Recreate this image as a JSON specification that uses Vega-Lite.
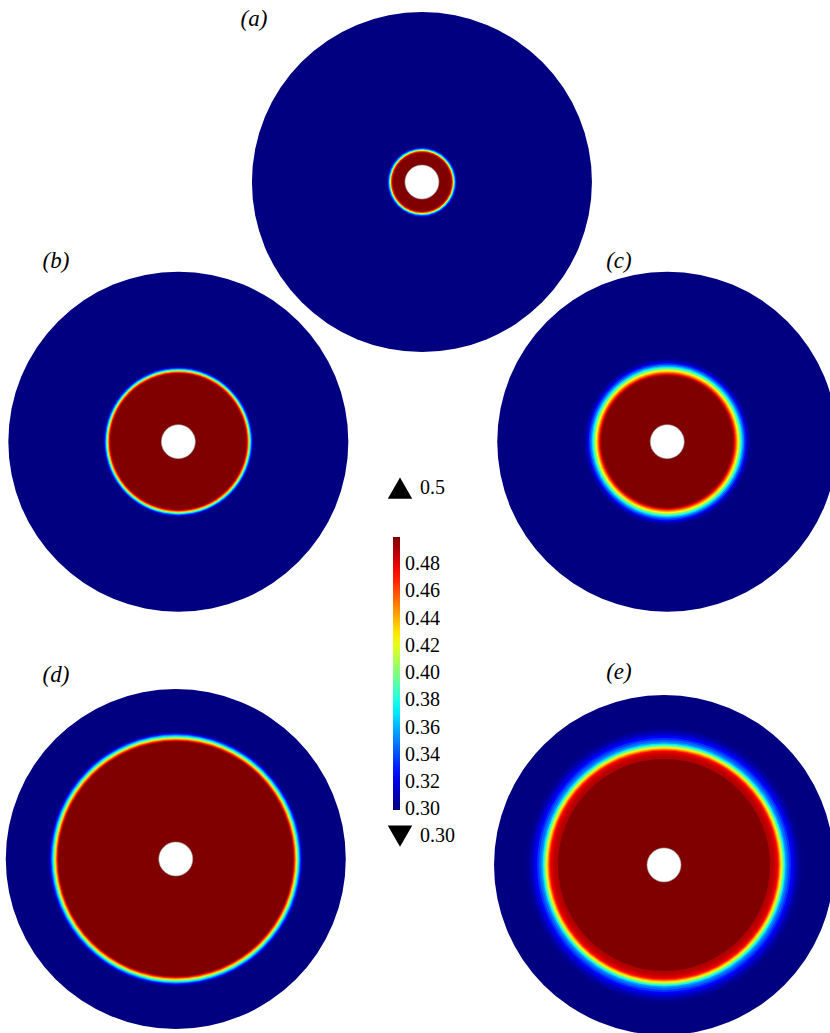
{
  "$schema": "https://vega.github.io/schema/vega-lite/v6.json",
  "width": 830,
  "height": 1033,
  "autosize": {"type": "none"},
  "padding": 0,
  "background": "white",
  "config": {"view": {"stroke": null}},
  "datasets": {
    "panels": [
      {"panel": "a", "cx": 24.82, "cy": 10.71, "hole": 1.0, "lx": 14.94, "ly": 1.12, "tag": "(a)"},
      {"panel": "b", "cx": 10.49, "cy": 25.98, "hole": 1.0, "lx": 3.29, "ly": 15.35, "tag": "(b)"},
      {"panel": "c", "cx": 39.25, "cy": 25.98, "hole": 1.0, "lx": 36.41, "ly": 15.35, "tag": "(c)"},
      {"panel": "d", "cx": 10.34, "cy": 50.53, "hole": 1.0, "lx": 3.29, "ly": 39.71, "tag": "(d)"},
      {"panel": "e", "cx": 39.06, "cy": 50.88, "hole": 1.0, "lx": 36.41, "ly": 39.53, "tag": "(e)"}
    ],
    "rings": [
      {"panel": "a", "r": 10.0, "c": 0.30},
      {"panel": "a", "r": 2.059, "c": 0.315},
      {"panel": "a", "r": 2.0, "c": 0.34},
      {"panel": "a", "r": 1.941, "c": 0.375},
      {"panel": "a", "r": 1.882, "c": 0.42},
      {"panel": "a", "r": 1.824, "c": 0.465},
      {"panel": "a", "r": 1.765, "c": 0.49},
      {"panel": "a", "r": 1.706, "c": 0.50},

      {"panel": "b", "r": 10.0, "c": 0.30},
      {"panel": "b", "r": 4.441, "c": 0.305},
      {"panel": "b", "r": 4.382, "c": 0.32},
      {"panel": "b", "r": 4.324, "c": 0.345},
      {"panel": "b", "r": 4.265, "c": 0.375},
      {"panel": "b", "r": 4.206, "c": 0.41},
      {"panel": "b", "r": 4.147, "c": 0.445},
      {"panel": "b", "r": 4.088, "c": 0.475},
      {"panel": "b", "r": 4.029, "c": 0.495},
      {"panel": "b", "r": 3.971, "c": 0.50},

      {"panel": "c", "r": 10.0, "c": 0.30},
      {"panel": "c", "r": 4.941, "c": 0.302},
      {"panel": "c", "r": 4.824, "c": 0.31},
      {"panel": "c", "r": 4.706, "c": 0.32},
      {"panel": "c", "r": 4.618, "c": 0.335},
      {"panel": "c", "r": 4.529, "c": 0.35},
      {"panel": "c", "r": 4.441, "c": 0.365},
      {"panel": "c", "r": 4.382, "c": 0.38},
      {"panel": "c", "r": 4.324, "c": 0.395},
      {"panel": "c", "r": 4.265, "c": 0.41},
      {"panel": "c", "r": 4.206, "c": 0.425},
      {"panel": "c", "r": 4.147, "c": 0.44},
      {"panel": "c", "r": 4.088, "c": 0.455},
      {"panel": "c", "r": 4.029, "c": 0.47},
      {"panel": "c", "r": 3.971, "c": 0.485},
      {"panel": "c", "r": 3.912, "c": 0.495},
      {"panel": "c", "r": 3.853, "c": 0.50},

      {"panel": "d", "r": 10.0, "c": 0.30},
      {"panel": "d", "r": 7.5, "c": 0.305},
      {"panel": "d", "r": 7.441, "c": 0.315},
      {"panel": "d", "r": 7.382, "c": 0.33},
      {"panel": "d", "r": 7.324, "c": 0.35},
      {"panel": "d", "r": 7.265, "c": 0.37},
      {"panel": "d", "r": 7.206, "c": 0.39},
      {"panel": "d", "r": 7.147, "c": 0.415},
      {"panel": "d", "r": 7.088, "c": 0.44},
      {"panel": "d", "r": 7.029, "c": 0.465},
      {"panel": "d", "r": 6.971, "c": 0.485},
      {"panel": "d", "r": 6.912, "c": 0.50},

      {"panel": "e", "r": 10.0, "c": 0.30},
      {"panel": "e", "r": 8.118, "c": 0.302},
      {"panel": "e", "r": 7.941, "c": 0.308},
      {"panel": "e", "r": 7.765, "c": 0.315},
      {"panel": "e", "r": 7.618, "c": 0.325},
      {"panel": "e", "r": 7.471, "c": 0.335},
      {"panel": "e", "r": 7.353, "c": 0.345},
      {"panel": "e", "r": 7.235, "c": 0.355},
      {"panel": "e", "r": 7.147, "c": 0.37},
      {"panel": "e", "r": 7.088, "c": 0.385},
      {"panel": "e", "r": 7.029, "c": 0.40},
      {"panel": "e", "r": 6.971, "c": 0.415},
      {"panel": "e", "r": 6.912, "c": 0.43},
      {"panel": "e", "r": 6.853, "c": 0.445},
      {"panel": "e", "r": 6.794, "c": 0.46},
      {"panel": "e", "r": 6.735, "c": 0.475},
      {"panel": "e", "r": 6.647, "c": 0.483},
      {"panel": "e", "r": 6.529, "c": 0.488},
      {"panel": "e", "r": 6.382, "c": 0.49},
      {"panel": "e", "r": 6.235, "c": 0.50}
    ],
    "extrema": [
      {"kind": "max", "value": 0.5, "label": "0.5", "x": 23.53, "y": 28.71},
      {"kind": "min", "value": 0.30, "label": "0.30", "x": 23.53, "y": 49.18}
    ]
  },
  "encoding": {
    "x": {"type": "quantitative", "scale": {"domain": [0, 48.824], "nice": false, "zero": false}, "axis": null},
    "y": {"type": "quantitative", "scale": {"domain": [0, 60.765], "nice": false, "zero": false, "reverse": true}, "axis": null}
  },
  "layer": [
    {
      "data": {"name": "rings"},
      "transform": [
        {"lookup": "panel", "from": {"data": {"name": "panels"}, "key": "panel", "fields": ["cx", "cy"]}}
      ],
      "mark": {"type": "point", "filled": true, "shape": "circle", "opacity": 1, "strokeWidth": 0},
      "encoding": {
        "x": {"field": "cx", "type": "quantitative"},
        "y": {"field": "cy", "type": "quantitative"},
        "size": {
          "field": "r",
          "type": "quantitative",
          "scale": {"type": "pow", "exponent": 2, "domain": [0, 10], "range": [0, 115600]},
          "legend": null
        },
        "color": {
          "field": "c",
          "type": "quantitative",
          "scale": {
            "domain": [0.2995, 0.30, 0.325, 0.375, 0.425, 0.475, 0.50],
            "range": ["#000080", "#000080", "#0000ff", "#00ffff", "#ffff00", "#ff0000", "#800000"],
            "interpolate": "rgb"
          },
          "legend": {
            "orient": "none",
            "legendX": 393,
            "legendY": 537,
            "direction": "vertical",
            "title": null,
            "gradientLength": 273,
            "gradientThickness": 7,
            "gradientStrokeWidth": 0,
            "values": [0.30, 0.32, 0.34, 0.36, 0.38, 0.40, 0.42, 0.44, 0.46, 0.48],
            "format": ".2f",
            "labelFont": "Liberation Serif",
            "labelFontSize": 20,
            "labelColor": "black",
            "labelOffset": 5,
            "labelOverlap": false,
            "padding": 0
          }
        },
        "order": {"field": "r", "sort": "descending"}
      }
    },
    {
      "data": {"name": "panels"},
      "mark": {"type": "point", "filled": true, "shape": "circle", "opacity": 1, "fill": "white", "stroke": "#9a9a9a", "strokeWidth": 0.6},
      "encoding": {
        "x": {"field": "cx", "type": "quantitative"},
        "y": {"field": "cy", "type": "quantitative"},
        "size": {"field": "hole", "type": "quantitative", "legend": null}
      }
    },
    {
      "data": {"name": "panels"},
      "mark": {"type": "text", "font": "Liberation Serif", "fontStyle": "italic", "fontSize": 23, "color": "black", "align": "center", "baseline": "middle"},
      "encoding": {
        "x": {"field": "lx", "type": "quantitative"},
        "y": {"field": "ly", "type": "quantitative"},
        "text": {"field": "tag"}
      }
    },
    {
      "data": {"name": "extrema"},
      "mark": {"type": "point", "filled": true, "opacity": 1, "size": 600, "color": "black", "strokeWidth": 0},
      "encoding": {
        "x": {"field": "x", "type": "quantitative"},
        "y": {"field": "y", "type": "quantitative"},
        "shape": {
          "field": "kind",
          "type": "nominal",
          "scale": {"domain": ["max", "min"], "range": ["triangle-up", "triangle-down"]},
          "legend": null
        }
      }
    },
    {
      "data": {"name": "extrema"},
      "mark": {"type": "text", "font": "Liberation Serif", "fontSize": 20, "color": "black", "align": "left", "baseline": "middle", "dx": 20},
      "encoding": {
        "x": {"field": "x", "type": "quantitative"},
        "y": {"field": "y", "type": "quantitative"},
        "text": {"field": "label"}
      }
    }
  ]
}
